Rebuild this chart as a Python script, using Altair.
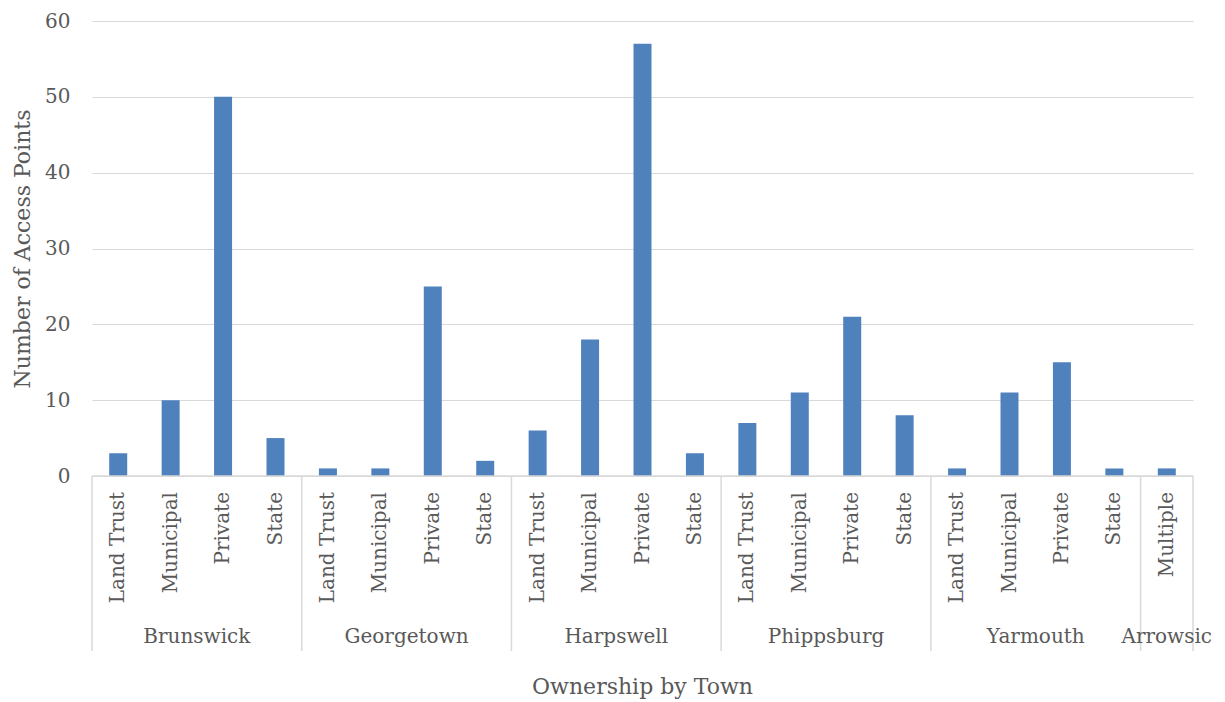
import altair as alt
import pandas as pd

# Access points by town and ownership type
towns = ["Brunswick", "Georgetown", "Harpswell", "Phippsburg", "Yarmouth", "Arrowsic"]
town_ownership = [
    ["Land Trust", "Municipal", "Private", "State"],
    ["Land Trust", "Municipal", "Private", "State"],
    ["Land Trust", "Municipal", "Private", "State"],
    ["Land Trust", "Municipal", "Private", "State"],
    ["Land Trust", "Municipal", "Private", "State"],
    ["Multiple"],
]
town_counts = [
    [3, 10, 50, 5],
    [1, 1, 25, 2],
    [6, 18, 57, 3],
    [7, 11, 21, 8],
    [1, 11, 15, 1],
    [1],
]
y_ticks = [0, 10, 20, 30, 40, 50, 60]

FONT = "DejaVu Serif"
TEXT = "#595959"
LINE = "#d9d9d9"
BAR = "#4f81bd"

# Flatten into one row per bar, with a running slot index along x
rows, groups, bounds = [], [], [0]
slot = 0
for town, owns, vals in zip(towns, town_ownership, town_counts):
    start = slot
    for own, v in zip(owns, vals):
        rows.append({"town": town, "ownership": own, "count": v, "pos": slot + 0.5})
        slot += 1
    groups.append({"town": town, "pos": (start + slot) / 2})
    bounds.append(slot)
bars_df = pd.DataFrame(rows)
groups_df = pd.DataFrame(groups)
bounds_df = pd.DataFrame({"b": bounds})
single = pd.DataFrame({"t": ["Ownership by Town"]})

n_slots = slot
W, H = 1101, 455

xs = alt.Scale(domain=[0, n_slots], nice=False, zero=False, padding=0)
ys = alt.Scale(domain=[0, 60], nice=False)

bars = alt.Chart(bars_df).mark_bar(size=18, color=BAR).encode(
    x=alt.X("pos:Q", scale=xs, axis=None),
    y=alt.Y(
        "count:Q",
        scale=ys,
        axis=alt.Axis(
            values=y_ticks,
            title="Number of Access Points",
            titleFont=FONT,
            titleFontSize=22,
            titleFontWeight="normal",
            titleColor=TEXT,
            titlePadding=10,
            labelFont=FONT,
            labelFontSize=20,
            labelColor=TEXT,
            labelPadding=22,
            domain=False,
            ticks=False,
            grid=True,
            gridColor=LINE,
            gridWidth=1.2,
        ),
    ),
)

baseline = alt.Chart(single).mark_rule(color=LINE, strokeWidth=1.5).encode(
    x=alt.value(0), x2=alt.value(W), y=alt.value(H)
)

separators = alt.Chart(bounds_df).mark_rule(color=LINE, strokeWidth=1.5).encode(
    x=alt.X("b:Q", scale=xs), y=alt.value(H), y2=alt.value(H + 175)
)

cat_labels = alt.Chart(bars_df).mark_text(
    angle=270, align="right", baseline="middle", font=FONT, fontSize=20, color=TEXT
).encode(x=alt.X("pos:Q", scale=xs), y=alt.value(H + 16), text="ownership:N")

town_labels = alt.Chart(groups_df).mark_text(
    align="center", baseline="middle", font=FONT, fontSize=20, color=TEXT
).encode(x=alt.X("pos:Q", scale=xs), y=alt.value(H + 161), text="town:N")

x_title = alt.Chart(single).mark_text(
    align="center", baseline="middle", font=FONT, fontSize=22, color=TEXT
).encode(x=alt.value(W / 2), y=alt.value(H + 211), text="t:N")

chart = (
    alt.layer(bars, baseline, separators, cat_labels, town_labels, x_title)
    .properties(
        width=W,
        height=H,
        autosize=alt.AutoSizeParams(type="none"),
        padding={"left": 92, "top": 21, "right": 32, "bottom": 226},
        background="white",
    )
    .configure_view(stroke=None)
)

chart.save("out.html", embed_options={"renderer": "svg", "actions": False})
